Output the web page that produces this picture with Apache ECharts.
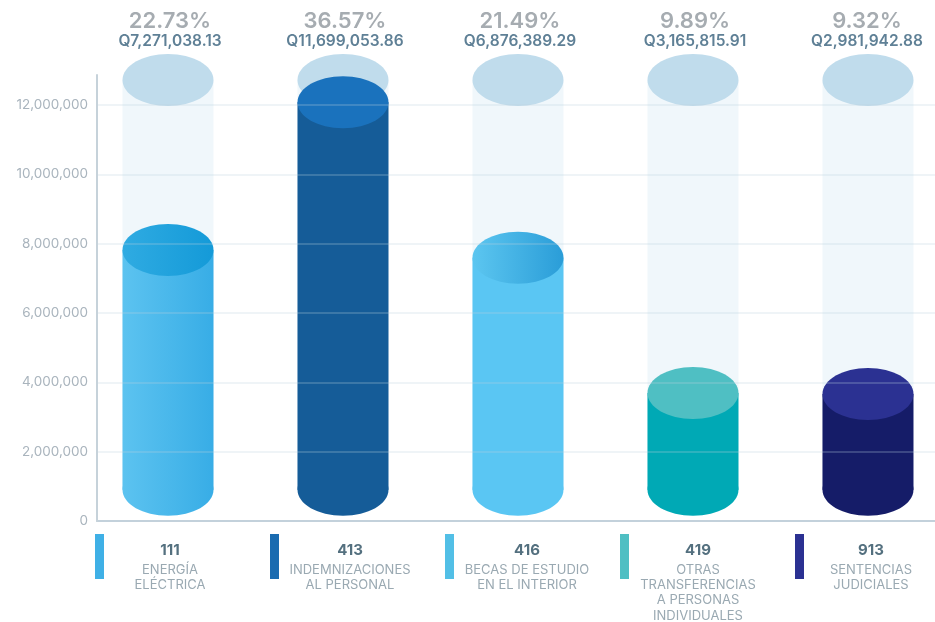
<!DOCTYPE html>
<html><head><meta charset="utf-8">
<style>html,body{margin:0;padding:0;background:#fff}#c{width:935px;height:622px}</style>
<script src="https://cdn.jsdelivr.net/npm/echarts@6/dist/echarts.min.js"></script>
</head><body><div id="c"></div>
<script>
const codes = ['111','413','416','419','913'];
const names = [['ENERGÍA','ELÉCTRICA'],['INDEMNIZACIONES','AL PERSONAL'],['BECAS DE ESTUDIO','EN EL INTERIOR'],['OTRAS','TRANSFERENCIAS','A PERSONAS','INDIVIDUALES'],['SENTENCIAS','JUDICIALES']];
const percents = ['22.73%','36.57%','21.49%','9.89%','9.32%'];
const amounts = ['Q7,271,038.13','Q11,699,053.86','Q6,876,389.29','Q3,165,815.91','Q2,981,942.88'];
// cylinder levels as read against the value axis
const topLevels = [7820000,12080000,7590000,3690000,3660000];
const baseLevel = 900000;
const ghostLevel = 12720000;
const yTicks = [0,2000000,4000000,6000000,8000000,10000000,12000000];

const bodyColors = [['#5cc3f0','#38ade6'],['#155c98','#155c98'],['#5ac6f3','#5ac6f3'],['#00a9b5','#00a9b5'],['#151c68','#151c68']];
const capColors = [['#2fabe2','#149ad8'],['#1a72bd','#1a72bd'],['#5cc6f0','#2a9dd8'],['#4fbfc3','#4fbfc3'],['#2b3192','#2b3192']];
const swatchColors = ['#3fb0e6','#1a6bb0','#52bfe6','#4fbfc3','#2b3192'];
const textX = [170,350,527,698,871];
const topX = [170,345,520,695,867];
const swatchX = [95,270,445,620,795];
const RX = 45.5, RY = 26;
const FONT = 'Inter';

const grad = c => new echarts.graphic.LinearGradient(0,0,1,0,[{offset:0,color:c[0]},{offset:1,color:c[1]}]);

function ghost(params, api){
  const i = api.value(0);
  const t = api.coord([i, api.value(1)]), b = api.coord([i, baseLevel]);
  return {type:'group',children:[
    {type:'rect',shape:{x:t[0]-RX,y:t[1],width:RX*2,height:b[1]-t[1]},style:{fill:'#f0f7fb'}},
    {type:'ellipse',shape:{cx:t[0],cy:t[1],rx:RX,ry:RY},style:{fill:'#c0dcec'}}
  ]};
}
function cylinder(params, api){
  const i = api.value(0);
  const t = api.coord([i, api.value(1)]), b = api.coord([i, baseLevel]);
  const body = grad(bodyColors[i]);
  return {type:'group',children:[
    {type:'ellipse',shape:{cx:b[0],cy:b[1],rx:RX,ry:RY},style:{fill:body}},
    {type:'rect',shape:{x:t[0]-RX,y:t[1],width:RX*2,height:b[1]-t[1]},style:{fill:body}},
    {type:'ellipse',shape:{cx:t[0],cy:t[1],rx:RX,ry:RY},style:{fill:grad(capColors[i])}}
  ]};
}

const graphics = [];
const txt = (x,y,text,size,weight,fill)=>graphics.push({type:'text',x,y,style:{text,font:`${weight} ${size}px ${FONT}`,fill,align:'center',verticalAlign:'middle'}});
codes.forEach((code,i)=>{
  txt(topX[i],21,percents[i],22,600,'#a6acb1');
  txt(topX[i],41,amounts[i],15.5,600,'#5f8096');
  txt(textX[i],550,code,15,700,'#54707f');
  names[i].forEach((line,j)=>txt(textX[i],570+j*15.2,line,13,400,'#9aa9b2'));
  graphics.push({type:'rect',shape:{x:swatchX[i],y:534,width:9,height:45},style:{fill:swatchColors[i]}});
});

const chart = echarts.init(document.getElementById('c'),null,{renderer:'canvas'});
chart.setOption({
  animation:false,
  backgroundColor:'#fff',
  grid:{left:97,right:0,top:75,bottom:101},
  xAxis:{type:'value',min:-0.4057,max:4.383,axisLabel:{show:false},axisTick:{show:false},splitLine:{show:false},
    axisLine:{show:true,onZero:false,lineStyle:{color:'#c6d2da',width:2}}},
  yAxis:{type:'value',min:0,max:12864000,interval:2000000,z:6,
    axisLine:{show:true,onZero:false,lineStyle:{color:'#c6d2da',width:2}},axisTick:{show:false},
    axisLabel:{margin:9,color:'#a9b4bd',fontFamily:FONT,fontSize:13.5,showMaxLabel:false,
      formatter:v=>yTicks.includes(v)?v.toLocaleString('en-US'):''},
    splitLine:{show:true,showMaxLine:false,lineStyle:{color:'rgba(190,210,222,0.24)',width:2}}},
  series:[
    {type:'custom',z:2,renderItem:ghost,encode:{x:0,y:1},data:codes.map((c,i)=>[i,ghostLevel]),silent:true},
    {type:'custom',z:3,renderItem:cylinder,encode:{x:0,y:1},data:topLevels.map((v,i)=>[i,v]),silent:true}
  ],
  graphic:graphics
});
</script></body></html>
